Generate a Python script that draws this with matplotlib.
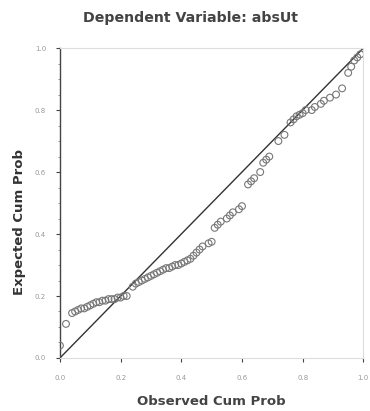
import matplotlib
matplotlib.use("Agg")
import matplotlib.pyplot as plt
from matplotlib.ticker import MultipleLocator

# observed vs expected cumulative probabilities
observed = [0.00, 0.02, 0.04, 0.05, 0.06, 0.07, 0.08, 0.09, 0.10, 0.11,
            0.12, 0.13, 0.14, 0.15, 0.16, 0.17, 0.18, 0.19, 0.20, 0.21,
            0.22, 0.24, 0.25, 0.26, 0.27, 0.28, 0.29, 0.30, 0.31, 0.32,
            0.33, 0.34, 0.35, 0.36, 0.37, 0.38, 0.39, 0.40, 0.41, 0.42,
            0.43, 0.44, 0.45, 0.46, 0.47, 0.49, 0.50, 0.51, 0.52, 0.53,
            0.55, 0.56, 0.57, 0.59, 0.60, 0.62, 0.63, 0.64, 0.66, 0.67,
            0.68, 0.69, 0.72, 0.74, 0.76, 0.77, 0.78, 0.79, 0.80, 0.81,
            0.83, 0.84, 0.86, 0.87, 0.89, 0.91, 0.93, 0.95, 0.96, 0.97,
            0.98, 0.99]
expected = [0.04, 0.11, 0.145, 0.15, 0.155, 0.16, 0.16, 0.165, 0.17, 0.175,
            0.18, 0.18, 0.185, 0.185, 0.19, 0.19, 0.19, 0.195, 0.195, 0.20,
            0.20, 0.23, 0.24, 0.245, 0.25, 0.255, 0.26, 0.265, 0.27, 0.275,
            0.28, 0.285, 0.29, 0.29, 0.295, 0.30, 0.30, 0.305, 0.31, 0.315,
            0.32, 0.33, 0.34, 0.35, 0.36, 0.37, 0.375, 0.42, 0.43, 0.44,
            0.45, 0.46, 0.47, 0.48, 0.49, 0.56, 0.57, 0.58, 0.60, 0.63,
            0.64, 0.65, 0.70, 0.72, 0.76, 0.77, 0.78, 0.785, 0.79, 0.80,
            0.80, 0.81, 0.82, 0.83, 0.84, 0.85, 0.87, 0.92, 0.94, 0.96,
            0.97, 0.98]
ticks = [0.0, 0.2, 0.4, 0.6, 0.8, 1.0]
tick_labels = ["0.0", "0.2", "0.4", "0.6", "0.8", "1.0"]

plt.rcParams['font.family'] = ['DejaVu Sans']

fig = plt.figure(figsize=(3.7, 4.11), dpi=100)
ax = fig.add_axes([0.162, 0.129, 0.82, 0.754])

ax.plot([0, 1], [0, 1], color='#333333', lw=1.0, zorder=2)
ax.scatter(observed, expected, s=24, facecolors='none',
           edgecolors='#777777', linewidths=0.8, zorder=3)

ax.set_xlim(0, 1)
ax.set_ylim(0, 1)
ax.set_xticks(ticks)
ax.set_xticklabels(tick_labels)
ax.set_yticks(ticks)
ax.set_yticklabels(tick_labels)
ax.yaxis.set_minor_locator(MultipleLocator(0.05))
ax.tick_params(axis='both', which='major', labelsize=5, labelcolor='#999999',
               length=3, color='#444444')
ax.tick_params(axis='x', which='major', pad=9)
ax.tick_params(axis='y', which='major', pad=7)
ax.tick_params(axis='y', which='minor', length=1.5, color='#888888')

ax.spines['left'].set_color('#444444')
ax.spines['left'].set_linewidth(1.0)
for side in ['top', 'right', 'bottom']:
    ax.spines[side].set_color('#dddddd')
    ax.spines[side].set_linewidth(0.8)

ax.set_xlabel('Observed Cum Prob', fontsize=9.5, fontweight='bold',
              color='#444444', labelpad=10)
ax.set_ylabel('Expected Cum Prob', fontsize=9.5, fontweight='bold',
              color='#333333')
ax.yaxis.set_label_coords(-0.112, 0.44)
fig.text(0.516, 0.955, 'Dependent Variable: absUt', ha='center', va='center',
         fontsize=10.2, fontweight='bold', color='#444444')

fig.savefig('out.png', dpi=100)
